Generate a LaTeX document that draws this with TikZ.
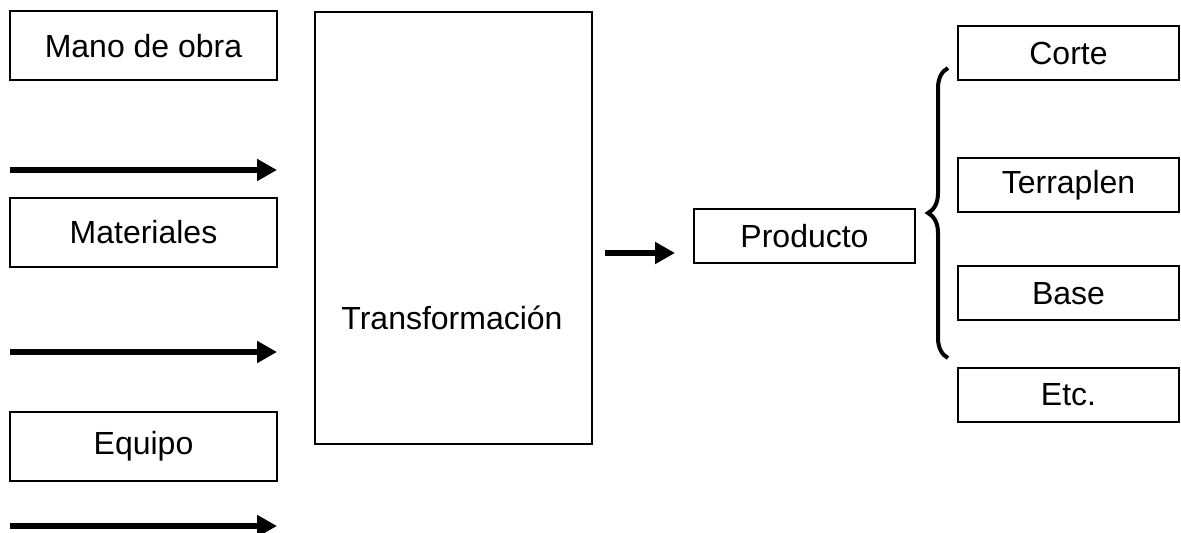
\documentclass[tikz,border=0pt]{standalone}
\usepackage{fontspec}
\setmainfont{Liberation Sans}
\usetikzlibrary{arrows.meta, positioning, decorations.pathreplacing}

\begin{document}
\begin{tikzpicture}[
    x=0.5pt, y=-0.5pt,
    box/.style={draw, line width=1pt, inner sep=0pt, font=\fontsize{16}{18}\selectfont},
    inbox/.style={box, minimum width=133.5pt, minimum height=34.5pt},
    outbox/.style={box, minimum width=110.5pt, minimum height=27pt},
    flow/.style={-{Triangle[length=10pt, width=10.5pt]}, line width=3pt},
    label/.style={font=\fontsize{16}{18}\selectfont, inner sep=0pt}
]
\useasboundingbox (0,0) rectangle (1181,533);

% Inputs
\node[inbox] (mano) at (143.5,46) {Mano de obra};
\node[inbox] (mat) at (143.5,232.5) {Materiales};
\node[inbox] (equipo) at (143.5,446.5) {Equipo};

\coordinate (f1s) at (10,170);
\coordinate (f1e) at (277,170);
\coordinate (f2s) at (10,352);
\coordinate (f2e) at (277,352);
\coordinate (f3s) at (10,526);
\coordinate (f3e) at (277,526);
\draw[flow] (f1s) -- (f1e);
\draw[flow] (f2s) -- (f2e);
\draw[flow] (f3s) -- (f3e);

% Process
\node[box, minimum width=138.5pt, minimum height=215.5pt] (trans) at (453.5,228) {};
\node[label] (translbl) at (452,318) {Transformación};

\coordinate (f4s) at (605,253);
\draw[flow] (f4s) -- (f4s -| 675,0);
\node[box, minimum width=110.5pt, minimum height=27pt] (prod) at (804.5,236) {Producto};

% Outputs
\draw[line width=2pt, decorate, decoration={brace, amplitude=10pt}] (948,358) -- (948,68);
\node[outbox] (corte) at (1068.5,53) {Corte};
\node[outbox] (terr) at (1068.5,185) {Terraplen};
\node[outbox] (base) at (1068.5,293.5) {Base};
\node[outbox] (etc) at (1068.5,395) {Etc.};
\end{tikzpicture}
\end{document}
